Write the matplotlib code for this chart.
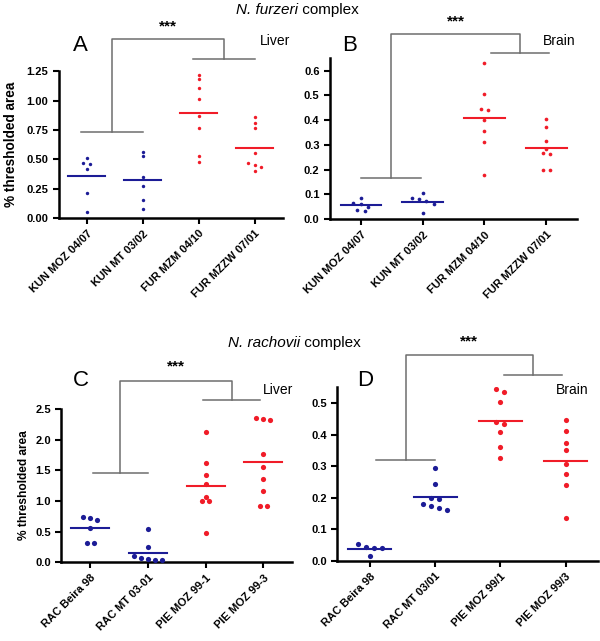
import numpy as np
import matplotlib
matplotlib.use("Agg")
import matplotlib.pyplot as plt

# ------------- data ----------------------------------
furzeri_labels = ["KUN MOZ 04/07", "KUN MT 03/02", "FUR MZM 04/10", "FUR MZZW 07/01"]
rachovii_labels = ["RAC Beira 98", "RAC MT 03-01", "PIE MOZ 99-1", "PIE MOZ 99-3"]
rachovii_labels_d = ["RAC Beira 98", "RAC MT 03/01", "PIE MOZ 99/1", "PIE MOZ 99/3"]

liver_a = [
    [0.51, 0.47, 0.46, 0.42, 0.21, 0.05],
    [0.56, 0.53, 0.35, 0.27, 0.15, 0.08],
    [1.22, 1.18, 1.11, 1.01, 0.87, 0.77, 0.53, 0.48],
    [0.86, 0.81, 0.77, 0.55, 0.47, 0.45, 0.43, 0.40],
]
brain_b = [
    [0.085, 0.065, 0.062, 0.050, 0.035, 0.037],
    [0.105, 0.085, 0.080, 0.072, 0.060, 0.025],
    [0.63, 0.505, 0.445, 0.44, 0.40, 0.355, 0.31, 0.18],
    [0.405, 0.372, 0.315, 0.282, 0.268, 0.265, 0.198, 0.198],
]
liver_c = [
    [0.73, 0.69, 0.72, 0.55, 0.32, 0.32],
    [0.54, 0.25, 0.10, 0.06, 0.03, 0.03, 0.05],
    [2.12, 1.62, 1.42, 1.27, 1.06, 0.99, 0.99, 0.48],
    [2.32, 2.34, 2.35, 1.77, 1.56, 1.36, 1.16, 0.91, 0.91],
]
brain_d = [
    [0.052, 0.043, 0.040, 0.042, 0.015],
    [0.293, 0.243, 0.200, 0.197, 0.180, 0.175, 0.168, 0.160],
    [0.545, 0.535, 0.502, 0.44, 0.433, 0.407, 0.359, 0.325],
    [0.445, 0.412, 0.373, 0.35, 0.307, 0.275, 0.24, 0.135],
]

BLUE = "#1c1c96"
RED = "#f01c28"
GREY = "#6e6e6e"
group_colors = [BLUE, BLUE, RED, RED]

plt.rcParams["font.family"] = ["Liberation Sans", "DejaVu Sans"]

fig = plt.figure(figsize=(6.0, 6.41), dpi=100)


def spread(vals, close, step):
    # put points with nearly equal values side by side
    order = np.argsort(vals)[::-1]
    offs = np.zeros(len(vals))
    cluster = [order[0]]
    for idx in list(order[1:]) + [None]:
        if idx is not None and abs(vals[cluster[-1]] - vals[idx]) < close:
            cluster.append(idx)
            continue
        n = len(cluster)
        for i, c in enumerate(cluster):
            offs[c] = (i - (n - 1) / 2) * step
        if idx is not None:
            cluster = [idx]
    return offs


def panel(rect, groups, labels, ylim, yticks, yfmt, letter, tissue, brackets,
          ylabel=None, dot=6, close=0.02):
    ax = fig.add_axes(rect)
    for i, vals in enumerate(groups):
        vals = np.array(vals)
        x = i + spread(vals, close * ylim[1], 0.12)
        ax.scatter(x, vals, s=dot, color=group_colors[i], zorder=3, linewidths=0)
        ax.plot([i - 0.33, i + 0.33], [vals.mean()] * 2, color=group_colors[i], lw=1.5)
    ax.set_xlim(-0.5, 3.5)
    ax.set_ylim(*ylim)
    ax.set_yticks(yticks)
    ax.set_yticklabels([yfmt % t for t in yticks], fontweight="bold", fontsize=8)
    ax.set_xticks(range(4))
    ax.set_xticklabels(labels, rotation=45, ha="right", rotation_mode="anchor",
                       fontweight="bold", fontsize=8)
    for s in ["top", "right"]:
        ax.spines[s].set_visible(False)
    for s in ["left", "bottom"]:
        ax.spines[s].set_linewidth(1.8)
    ax.tick_params(width=1.5, length=4)
    if ylabel:
        ax.set_ylabel("% thresholded area", fontweight="bold", fontsize=ylabel[0],
                      labelpad=ylabel[1])

    # significance brackets
    (l0, l1, ly), (r0, r1, ry), top, star_y = brackets
    kw = dict(color=GREY, lw=1.1, clip_on=False)
    lm = (l0 + l1) / 2
    rm = (r0 + r1) / 2
    ax.plot([l0, l1], [ly, ly], **kw)
    ax.plot([r0, r1], [ry, ry], **kw)
    ax.plot([lm, lm, rm, rm], [ly, top, top, ry], **kw)
    ax.text((lm + rm) / 2, star_y, "***", ha="center", va="center",
            fontsize=11, fontweight="bold")
    ax.text(letter[1], letter[2], letter[0], ha="left", va="center", fontsize=16)
    ax.text(tissue[1], tissue[2], tissue[0], ha="left", va="center", fontsize=10)
    return ax


panel([0.098, 0.660, 0.373, 0.229], liver_a, furzeri_labels, (0, 1.25),
      [0, 0.25, 0.5, 0.75, 1.0, 1.25], "%.2f", ("A", -0.25, 1.47),
      ("Liver", 3.1, 1.51), ((-0.1, 1.0, 0.735), (1.9, 3.0, 1.35), 1.52, 1.63),
      ylabel=(9.8, 6), dot=6)

panel([0.550, 0.658, 0.412, 0.251], brain_b, furzeri_labels, (0, 0.65),
      [0, 0.1, 0.2, 0.3, 0.4, 0.5, 0.6], "%.1f", ("B", -0.3, 0.70),
      ("Brain", 2.95, 0.72), ((0.0, 0.98, 0.167), (2.1, 3.05, 0.673), 0.75, 0.80),
      dot=7)

panel([0.102, 0.123, 0.385, 0.239], liver_c, rachovii_labels, (0, 2.5),
      [0, 0.5, 1.0, 1.5, 2.0, 2.5], "%.1f", ("C", -0.3, 2.96),
      ("Liver", 3.0, 2.81), ((0.05, 1.0, 1.45), (1.95, 2.95, 2.64), 2.95, 3.19),
      ylabel=(8.6, 4), dot=14)

panel([0.562, 0.125, 0.435, 0.271], brain_d, rachovii_labels_d, (0, 0.55),
      [0, 0.1, 0.2, 0.3, 0.4, 0.5], "%.1f", ("D", -0.2, 0.571),
      ("Brain", 2.85, 0.542), ((0.1, 1.0, 0.32), (2.05, 2.95, 0.59), 0.653, 0.696),
      dot=14)

# group titles
fig.text(298 / 600, 1 - 10 / 641, "N. furzeri", style="italic", ha="right",
         va="center", fontsize=11)
fig.text(298 / 600, 1 - 10 / 641, " complex", ha="left", va="center", fontsize=11)
fig.text(300 / 600, 1 - 343 / 641, "N. rachovii", style="italic", ha="right",
         va="center", fontsize=11)
fig.text(300 / 600, 1 - 343 / 641, " complex", ha="left", va="center", fontsize=11)

fig.savefig("out.png", dpi=100)
